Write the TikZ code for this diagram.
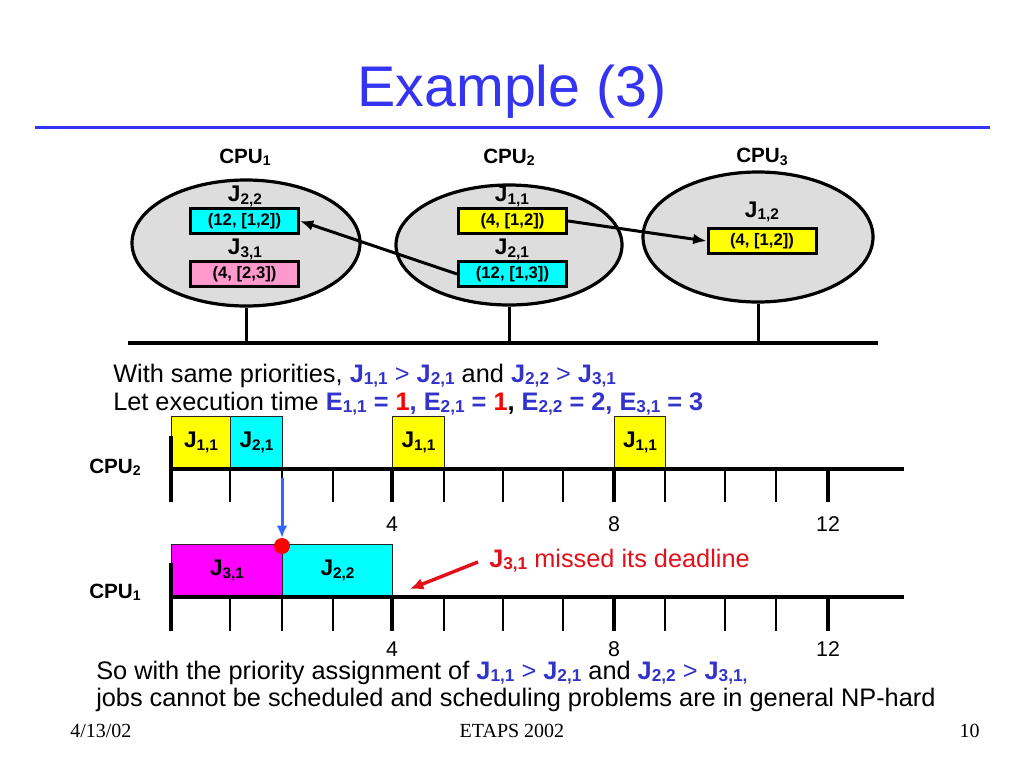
\documentclass[tikz,border=0pt]{standalone}
\usepackage{fontspec}
\usepackage{graphicx}
\setmainfont{Liberation Sans}
\newfontfamily\timesfont{Liberation Serif}
\usetikzlibrary{arrows.meta,shapes.geometric}
\definecolor{titleblue}{RGB}{51,51,240}
\definecolor{txtblue}{RGB}{51,51,204}
\definecolor{ellgray}{RGB}{221,221,221}
\definecolor{jcyan}{RGB}{0,255,255}
\definecolor{jyellow}{RGB}{255,255,0}
\definecolor{jpink}{RGB}{255,153,204}
\definecolor{jmag}{RGB}{255,0,255}
\definecolor{jred}{RGB}{226,16,26}
\definecolor{arrowblue}{RGB}{51,102,255}
\newcommand{\fsz}[1]{\fontsize{#1}{#1}\selectfont}
\newcommand{\sbs}[1]{\raisebox{-0.22ex}{\scalebox{0.68}{#1}}}
\tikzset{
  cpuell/.style={ellipse, draw, line width=2.4pt, fill=ellgray, inner sep=0},
  jobbox/.style={draw, line width=2.25pt, minimum width=81pt, minimum height=18.75pt, inner sep=0, font=\fsz{12.5}\bfseries},
  jlab/.style={font=\fsz{17}\bfseries, inner sep=0},
  cpulab/.style={font=\fsz{15.5}\bfseries, inner sep=0},
  slot/.style={draw=black!85, line width=0.8pt, inner sep=0, minimum height=39pt, anchor=south west, font=\fsz{17}\bfseries},
  axisline/.style={line width=3pt},
  majtick/.style={line width=3pt},
  mintick/.style={line width=1.1pt},
  numlab/.style={font=\fsz{16}, inner sep=0, anchor=base},
  bodytxt/.style={font=\fsz{19}, inner sep=0, anchor=base west},
  conn/.style={line width=2.25pt, -{Latex[length=10pt,width=8pt]}},
  foot/.style={font=\timesfont\fsz{15}, inner sep=0, anchor=base}
}
\begin{document}
\begin{tikzpicture}[x=0.75pt,y=-0.75pt]
\fill[white] (0,0) rectangle (1024,768);
\useasboundingbox (0,0) rectangle (1024,768);

% title
\node[font=\fsz{43}, text=titleblue, inner sep=0, anchor=base] (title) at (512,106.5) {Example (3)};
\coordinate (tl) at (35,127.5);
\coordinate (tr) at (990,127.5);
\draw[titleblue, line width=1.6pt] (tl) -- (tr);

% bus and CPUs
\coordinate (busL) at (128,343);
\coordinate (busR) at (878,343);
\node[cpuell, minimum width=171pt, minimum height=94.5pt] (e1) at (246,243) {};
\node[cpuell, minimum width=169.5pt, minimum height=90pt] (e2) at (509,245) {};
\node[cpuell, minimum width=172.5pt, minimum height=97.5pt] (e3) at (758,237) {};
\draw[line width=2.25pt] (e1.south) -- (e1.south |- busL);
\draw[line width=2.25pt] (e2.south) -- (e2.south |- busL);
\draw[line width=2.25pt] (e3.south) -- (e3.south |- busL);
\draw[line width=3pt] (busL) -- (busR);

\node[cpulab] (c1) at (245,157) {CPU\sbs{1}};
\node[cpulab] (c2) at (509,157) {CPU\sbs{2}};
\node[cpulab] (c3) at (762,157) {CPU\sbs{3}};

\node[jlab] (l22) at (245,196.5) {J\sbs{2,2}};
\node[jobbox, fill=jcyan] (b22) at (244.5,221) {(12, [1,2])};
\node[jlab] (l31) at (245,249.5) {J\sbs{3,1}};
\node[jobbox, fill=jpink] (b31) at (244.5,274) {(4, [2,3])};

\node[jlab] (l11) at (512,196.5) {J\sbs{1,1}};
\node[jobbox, fill=jyellow] (b11) at (512.5,221) {(4, [1,2])};
\node[jlab] (l21) at (512,249.5) {J\sbs{2,1}};
\node[jobbox, fill=jcyan] (b21) at (512.5,274) {(12, [1,3])};

\node[jlab] (l12) at (762,212) {J\sbs{1,2}};
\node[jobbox, fill=jyellow] (b12) at (762,241) {(4, [1,2])};

\draw[conn] (b21.west) -- (b22.east);
\draw[conn] (b11.east) -- (b12.west);

% text lines
\node[bodytxt] (t1) at (113,382) {With same priorities, {\color{txtblue}\bfseries J\sbs{1,1} \mdseries>\bfseries{} J\sbs{2,1}} and {\color{txtblue}\bfseries J\sbs{2,2} \mdseries>\bfseries{} J\sbs{3,1}}};
\node[bodytxt] (t2) at (113,410) {Let execution time {\bfseries\color{txtblue}E\sbs{1,1} = }{\bfseries\color{red}1}{\bfseries\color{txtblue}, E\sbs{2,1} = }{\bfseries\color{red}1}{\bfseries ,} {\bfseries\color{txtblue}E\sbs{2,2} = 2, E\sbs{3,1} = 3}};

% CPU2 timeline
\node[cpulab] (tc2) at (115,467) {CPU\sbs{2}};
\node[slot, fill=jyellow, minimum width=44.25pt] (s1) at (171,469) {J\sbs{1,1}};
\node[slot, fill=jcyan, minimum width=39pt] (s2) at (230,469) {J\sbs{2,1}};
\node[slot, fill=jyellow, minimum width=39pt] (s3) at (392,469) {J\sbs{1,1}};
\node[slot, fill=jyellow, minimum width=38.25pt] (s4) at (614,469) {J\sbs{1,1}};
\coordinate (a2s) at (171,469);
\coordinate (a2e) at (904,469);
\draw[axisline] (a2s) -- (a2e);
\draw[majtick] (171,436) -- (171,502);
\foreach \x [count=\i from 0] in {171,230,282,333,392,444,503,563,614,665,725,776,828} {
  \pgfmathtruncatemacro\m{mod(\i,4)}
  \ifnum\m=0 \draw[majtick] (\x,469) -- (\x,502); \else \draw[mintick] (\x,469) -- (\x,502); \fi
}
\node[numlab] (n4a) at (392,531) {4};
\node[numlab] (n8a) at (614,531) {8};
\node[numlab] (n12a) at (828,531) {12};

% CPU1 timeline
\node[cpulab] (tc1) at (115,592) {CPU\sbs{1}};
\node[slot, fill=jmag, minimum width=83.25pt] (r1) at (171,597) {J\sbs{3,1}};
\node[slot, fill=jcyan, minimum width=82.5pt] (r2) at (282,597) {J\sbs{2,2}};
\coordinate (a1s) at (171,597);
\coordinate (a1e) at (904,597);
\draw[axisline] (a1s) -- (a1e);
\draw[majtick] (171,563) -- (171,631);
\foreach \x [count=\i from 0] in {171,230,282,333,392,444,503,563,614,665,725,776,828} {
  \pgfmathtruncatemacro\m{mod(\i,4)}
  \ifnum\m=0 \draw[majtick] (\x,597) -- (\x,631); \else \draw[mintick] (\x,597) -- (\x,631); \fi
}
\node[numlab] (n4b) at (392,656) {4};
\node[numlab] (n8b) at (614,656) {8};
\node[numlab] (n12b) at (828,656) {12};

% blue arrow and red dot
\node[circle, fill=red, inner sep=0, minimum size=12pt] (dot) at (282,546) {};
\coordinate (ba) at (282,478);
\draw[arrowblue, line width=2.25pt, -{Latex[length=9pt,width=8pt]}] (ba) -- (dot.north);

% missed deadline
\node[bodytxt, text=jred] (miss) at (489,567) {{\bfseries J\sbs{3,1}} missed its deadline};
\coordinate (ra1) at (478,562);
\coordinate (ra2) at (410,589);
\draw[jred, line width=2.6pt, -{Latex[length=10pt,width=9pt]}] (ra1) -- (ra2);

% bottom text
\node[bodytxt] (t3) at (96,679) {So with the priority assignment of {\color{txtblue}\bfseries J\sbs{1,1} \mdseries>\bfseries{} J\sbs{2,1}} and {\color{txtblue}\bfseries J\sbs{2,2} \mdseries>\bfseries{} J\sbs{3,1,}}};
\node[bodytxt] (t4) at (96,706) {jobs cannot be scheduled and scheduling problems are in general NP-hard};

% footer
\node[foot, anchor=base west] (f1) at (70,737) {4/13/02};
\node[foot] (f2) at (512,737) {ETAPS 2002};
\node[foot, anchor=base east] (f3) at (980,737) {10};
\end{tikzpicture}
\end{document}
